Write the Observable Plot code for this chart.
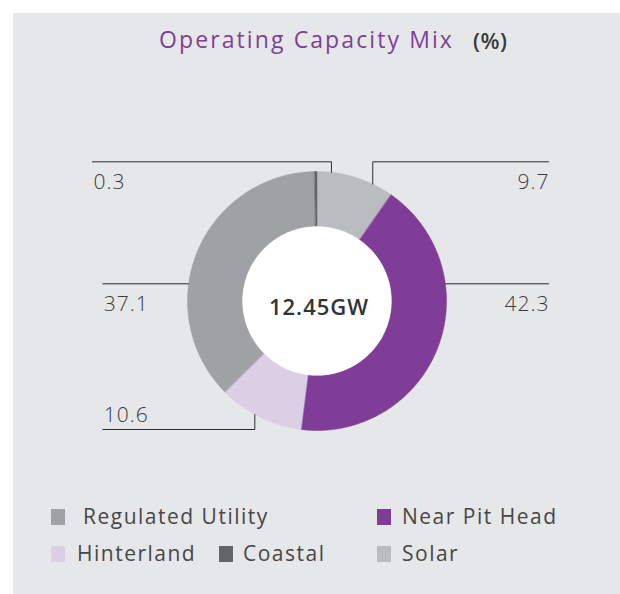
<!DOCTYPE html>
<html>
<head>
<meta charset="utf-8">
<script src="https://cdn.jsdelivr.net/npm/d3@7"></script>
<script src="https://cdn.jsdelivr.net/npm/@observablehq/plot@0.6"></script>
<style>
  html, body { margin: 0; padding: 0; background: #ffffff; }
  body { width: 620px; height: 594px; position: relative; overflow: hidden; font-family: "Open Sans", sans-serif; }
  #panel { position: absolute; left: 13px; top: 13px; width: 607px; height: 581px; background: #e6e7e9; }
  #title { position: absolute; left: 159px; top: 28px; font-size: 23px; line-height: 23px; font-weight: 500; color: #7f3f98; white-space: nowrap; letter-spacing: 2.1px; }
  #unit { position: absolute; left: 473px; top: 28.5px; font-size: 22px; line-height: 22px; font-weight: 600; color: #3a3a3a; white-space: nowrap; letter-spacing: 0.5px; }
  #chart { position: absolute; left: 0; top: 70px; }
  .lg-sw { position: absolute; width: 14px; height: 16px; }
  .lg-tx { position: absolute; font-size: 21px; line-height: 21px; color: #464648; white-space: nowrap; font-weight: 400; letter-spacing: 1.5px; }
</style>
</head>
<body>
<div id="panel"></div>
<div id="title">Operating Capacity Mix</div>
<div id="unit">(%)</div>
<div id="chart"></div>
<div id="legend"></div>
<script>
// ---- data ----
const categories = ["Solar", "Near Pit Head", "Hinterland", "Regulated Utility", "Coastal"];
const shares = [9.7, 42.3, 10.6, 37.1, 0.3];
const shareLabels = ["9.7", "42.3", "10.6", "37.1", "0.3"];
const totalLabel = "12.45GW";
const legendOrder = ["Regulated Utility", "Near Pit Head", "Hinterland", "Coastal", "Solar"];

// ---- style / layout (kept apart from the data) ----
const palette = ["#bbbcbf", "#7f3d97", "#dbcfe5", "#a0a1a4", "#636466"];
const W = 620, H = 400;
const cx = 316.5, cy = 230.5;      // donut centre in svg pixels
const R = 129.5;                   // outer radius px
const innerFrac = 0.574;           // inner radius / outer radius
const px = v => v / R;             // pixels -> data units
// leader layout per category: anchor angle (deg, clockwise from top), row (svg px), end x (svg px), text side, text offset
const leaderLayout = {
  "Solar":             {angle: 25.5,  rowY: 91.3,  endX: 548,   anchor: "end",   dxPx: 1,  dyPx: 27},
  "Near Pit Head":     {angle: 82.4,  rowY: 213.3, endX: 548,   anchor: "end",   dxPx: 1,  dyPx: 27},
  "Hinterland":        {angle: 208.7, rowY: 359,   endX: 102.3, anchor: "start", dxPx: 1,  dyPx: -8},
  "Regulated Utility": {angle: 277.6, rowY: 213.3, endX: 102.3, anchor: "start", dxPx: 1,  dyPx: 27},
  "Coastal":           {angle: 6.4,   rowY: 91.3,  endX: 92,    anchor: "start", dxPx: 1,  dyPx: 27}
};
const legendLayout = {
  "Regulated Utility": {sx: 51,  tx: 83,  row: 0},
  "Near Pit Head":     {sx: 377, tx: 402, row: 0},
  "Hinterland":        {sx: 51,  tx: 77,  row: 1},
  "Coastal":           {sx: 219, tx: 243, row: 1},
  "Solar":             {sx: 377, tx: 402, row: 1}
};
const legendRows = [{swTop: 508.5, txTop: 506}, {swTop: 546, txTop: 543}];

// ---- geometry from data ----
const arcs = d3.pie().sort(null).value(d => d)(shares);
const ring = [];
arcs.forEach((a, i) => {
  const n = Math.max(2, Math.ceil((a.endAngle - a.startAngle) / (Math.PI / 360)));
  for (let k = 0; k <= n; k++) {
    const t = a.startAngle + (a.endAngle - a.startAngle) * k / n;
    ring.push({cat: categories[i], x: Math.sin(t), y: Math.cos(t)});
  }
  for (let k = n; k >= 0; k--) {
    const t = a.startAngle + (a.endAngle - a.startAngle) * k / n;
    ring.push({cat: categories[i], x: innerFrac * Math.sin(t), y: innerFrac * Math.cos(t)});
  }
});
const hole = d3.range(0, 361, 1).map(d => {
  const t = d * Math.PI / 180;
  return {x: innerFrac * Math.sin(t), y: innerFrac * Math.cos(t)};
});

const leaders = [];
const labels = [];
categories.forEach((c, i) => {
  const L = leaderLayout[c];
  const t = L.angle * Math.PI / 180;
  const ax = Math.sin(t), ay = Math.cos(t);
  const rowY = px(cy - L.rowY);
  const endX = px(L.endX - cx);
  leaders.push({cat: c, x: ax, y: ay});
  leaders.push({cat: c, x: ax, y: rowY});
  leaders.push({cat: c, x: endX, y: rowY});
  labels.push({cat: c, text: shareLabels[i], anchor: L.anchor,
               x: endX + px(L.dxPx), y: rowY - px(L.dyPx)});
});

const xDomain = [px(0 - cx), px(W - cx)];
const yDomain = [px(cy - H), px(cy)];

const labelStyle = {fontSize: 21, fontWeight: 300, fill: "#3a3a3c", lineAnchor: "bottom"};

const plot = Plot.plot({
  width: W, height: H, margin: 0,
  x: {domain: xDomain, axis: null},
  y: {domain: yDomain, axis: null},
  color: {type: "ordinal", domain: categories, range: palette},
  style: {background: "transparent", fontFamily: "'Open Sans', sans-serif", overflow: "visible", letterSpacing: "1px"},
  marks: [
    Plot.line(ring, {x: "x", y: "y", z: "cat", fill: "cat", stroke: "cat", strokeWidth: 0.5, curve: "linear-closed"}),
    Plot.line(hole, {x: "x", y: "y", fill: "#ffffff", stroke: "#ffffff", strokeWidth: 0.5, curve: "linear-closed"}),
    Plot.line(leaders, {x: "x", y: "y", z: "cat", stroke: "#2b2b2d", strokeWidth: 1}),
    Plot.text(labels.filter(d => d.anchor === "start"), {x: "x", y: "y", text: "text", textAnchor: "start", ...labelStyle}),
    Plot.text(labels.filter(d => d.anchor === "end"), {x: "x", y: "y", text: "text", textAnchor: "end", ...labelStyle}),
    Plot.text([totalLabel], {x: () => 0, y: () => 0, text: d => d, textAnchor: "middle", lineAnchor: "bottom",
      dx: 2, dy: 13.5, fontSize: 22, fontWeight: 600, fill: "#333335"})
  ]
});
document.getElementById("chart").appendChild(plot);

// ---- legend from the plot's colour scale ----
const colorScale = plot.scale("color");
const colorOf = new Map(colorScale.domain.map((d, i) => [d, colorScale.range[i]]));
const legend = document.getElementById("legend");
legendOrder.forEach(c => {
  const L = legendLayout[c];
  const row = legendRows[L.row];
  const sw = document.createElement("div");
  sw.className = "lg-sw";
  sw.style.left = L.sx + "px";
  sw.style.top = row.swTop + "px";
  sw.style.background = colorOf.get(c);
  legend.appendChild(sw);
  const tx = document.createElement("div");
  tx.className = "lg-tx";
  tx.style.left = L.tx + "px";
  tx.style.top = row.txTop + "px";
  tx.textContent = c;
  legend.appendChild(tx);
});
</script>
</body>
</html>
